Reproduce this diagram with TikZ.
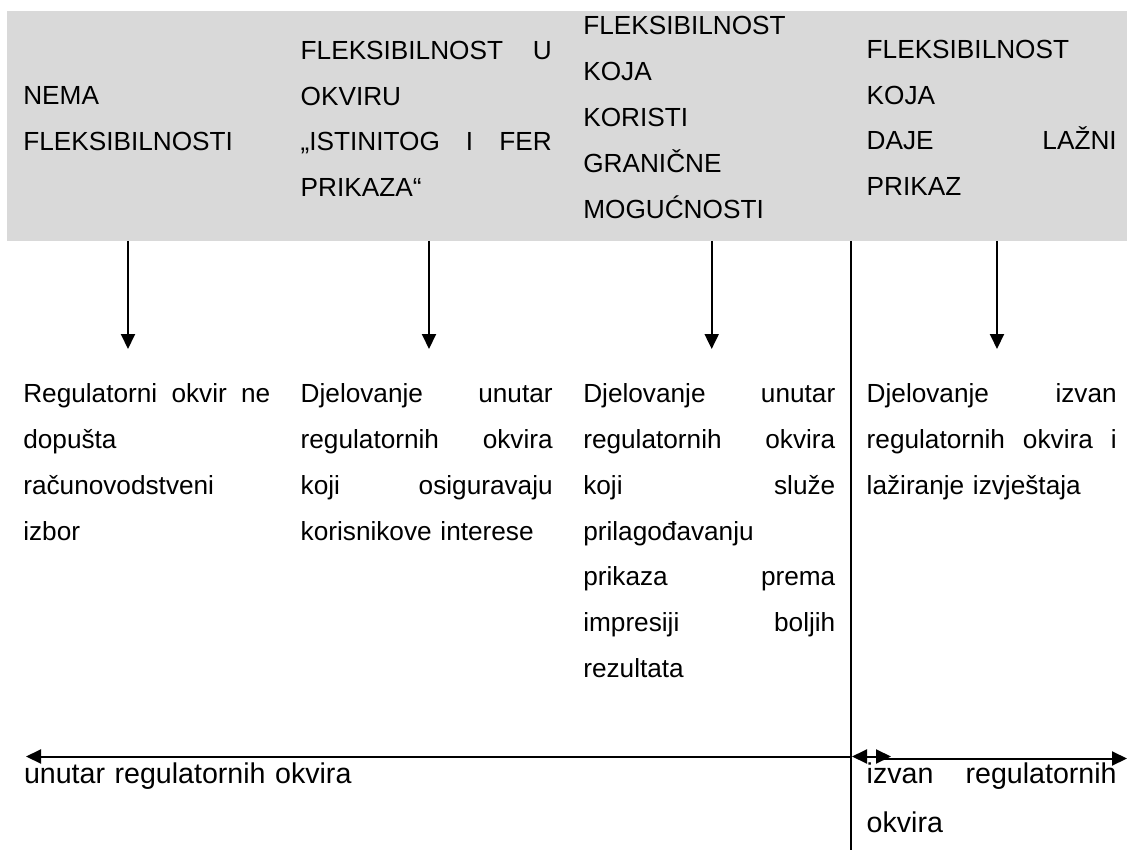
\documentclass[tikz,border=0pt]{standalone}
\usepackage{fontspec}
\setmainfont{Liberation Sans}
\usetikzlibrary{arrows.meta}
\setlength{\parindent}{0pt}
\setlength{\parskip}{0pt}
\definecolor{bandgray}{HTML}{D9D9D9}
\newcommand{\myStrut}{\rule{0pt}{30pt}}
\newcommand{\jfill}{\hspace{\fill}}
\begin{document}
\begin{tikzpicture}[x=1pt,y=-1pt,
  txt/.style={anchor=north west, inner sep=0pt, outer sep=0pt, align=left,
    font=\fontsize{26.2}{45.8}\selectfont},
  bigtxt/.style={anchor=north west, inner sep=0pt, outer sep=0pt, align=left,
    font=\fontsize{28.6}{49.6}\selectfont},
  conn/.style={line width=2pt},
  headtip/.style={-{Triangle[length=15pt,width=14pt]}},
  bothtip/.style={{Triangle[length=15pt,width=14pt]}-{Triangle[length=15pt,width=14pt]}}
]
\useasboundingbox (0,0) rectangle (1127,850);
% grey header band
\node[fill=bandgray, draw=none, inner sep=0pt, outer sep=0pt, anchor=north west,
  minimum width=1120pt, minimum height=230pt] (band) at (7,11) {};
% header texts
\node[txt, text width=247pt] (h1) at (23.3,75) {\myStrut NEMA\\FLEKSIBILNOSTI};
\node[txt, text width=251pt] (h2) at (300.7,29.3) {\myStrut FLEKSIBILNOST\jfill U\\OKVIRU\\„ISTINITOG\jfill I\jfill FER\\PRIKAZA“};
\node[txt, text width=252pt] (h3) at (583.3,5) {\myStrut FLEKSIBILNOST\\KOJA\\KORISTI\\GRANIČNE\\MOGUĆNOSTI};
\node[txt, text width=250pt] (h4) at (866.7,28.3) {\myStrut FLEKSIBILNOST\\KOJA\\DAJE\jfill LAŽNI\\PRIKAZ};
% lower texts
\node[txt, text width=247pt] (t1) at (23.3,372.7) {\myStrut Regulatorni\jfill okvir\jfill ne\\dopušta\\računovodstveni\\izbor};
\node[txt, text width=252pt] (t2) at (300.7,372.7) {\myStrut Djelovanje\jfill unutar\\regulatornih\jfill okvira\\koji\jfill osiguravaju\\korisnikove interese};
\node[txt, text width=252pt] (t3) at (583.3,372.7) {\myStrut Djelovanje\jfill unutar\\regulatornih\jfill okvira\\koji\jfill služe\\prilagođavanju\\prikaza\jfill prema\\impresiji\jfill boljih\\rezultata};
\node[txt, text width=250pt] (t4) at (866.7,372.7) {\myStrut Djelovanje\jfill izvan\\regulatornih\jfill okvira\jfill i\\lažiranje izvještaja};
% bottom labels
\node[bigtxt, text width=400pt] (b1) at (24,753) {\myStrut unutar regulatornih okvira};
\node[bigtxt, text width=250pt] (b2) at (866.7,753) {\myStrut izvan\jfill regulatornih\\okvira};
% arrow end points
\coordinate (a1s) at (128,241);   \coordinate (a1e) at (128,349);
\coordinate (a2s) at (429,241);   \coordinate (a2e) at (429,349);
\coordinate (a3s) at (711.7,241); \coordinate (a3e) at (711.7,349);
\coordinate (a4s) at (997,241);   \coordinate (a4e) at (997,349);
\coordinate (vtop) at (851,241);  \coordinate (vbot) at (851,850);
\coordinate (lstart) at (851,756.5); \coordinate (lend) at (26,756.5);
\coordinate (dl) at (852,756.5);  \coordinate (dr) at (891,756.5);
\coordinate (rstart) at (876,758.5); \coordinate (rend) at (1127,758.5);
% connectors
\draw[conn, headtip] (a1s) -- (a1e);
\draw[conn, headtip] (a2s) -- (a2e);
\draw[conn, headtip] (a3s) -- (a3e);
\draw[conn, headtip] (a4s) -- (a4e);
\draw[conn] (vtop) -- (vbot);
\draw[conn, headtip] (lstart) -- (lend);
\draw[conn, bothtip] (dl) -- (dr);
\draw[conn, headtip] (rstart) -- (rend);
\end{tikzpicture}
\end{document}
